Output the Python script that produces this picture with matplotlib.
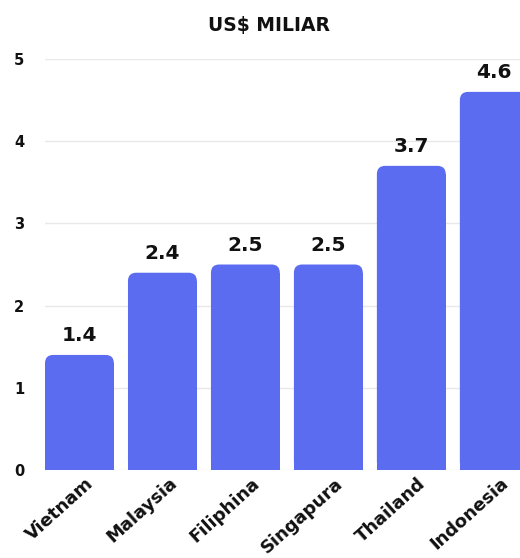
import matplotlib
matplotlib.use("Agg")
import matplotlib.pyplot as plt
from matplotlib.patches import FancyBboxPatch, Rectangle
import matplotlib.transforms as mtransforms

countries = ["Vietnam", "Malaysia", "Filiphina", "Singapura", "Thailand", "Indonesia"]
values = [1.4, 2.4, 2.5, 2.5, 3.7, 4.6]
value_labels = ["1.4", "2.4", "2.5", "2.5", "3.7", "4.6"]
yticks = [0, 1, 2, 3, 4, 5]
title = "US$ MILIAR"

color = "#5B6CF0"
font = "DejaVu Sans"
txt = "#111111"

fig = plt.figure(figsize=(5.2, 5.58), dpi=100)
ax = fig.add_axes([45/520, 88/558, 475/520, 411/558])

bars = ax.bar(range(len(countries)), values, width=0.83, color=color, zorder=2)
r = 0.1
for i, b in enumerate(bars):
    x, w, h = b.get_x(), b.get_width(), b.get_height()
    b.set_visible(False)
    ax.add_patch(FancyBboxPatch((x, 0), w, h, boxstyle=f"round,pad=0,rounding_size={r}",
                                fc=color, ec="none", zorder=2, mutation_aspect=1.0))
    ax.add_patch(Rectangle((x, 0), w, h - r, fc=color, ec="none", zorder=2))
    ax.text(x + w/2, h + 0.12, value_labels[i],
            ha="center", va="bottom", fontsize=14.5, fontweight="bold", family=font,
            color=txt, clip_on=False)

ax.set_xlim(-0.415, 5.31)
ax.set_ylim(0, 5)
ax.set_yticks(yticks)
ax.set_yticklabels([str(t) for t in yticks], fontsize=10.5, fontweight="bold", family=font, color=txt)
ax.yaxis.grid(True, color="#e8e8e8", lw=1, zorder=0)
ax.tick_params(axis="y", length=0, pad=15)
ax.tick_params(axis="x", length=0, pad=3)
ax.set_xticks(range(len(countries)))
ax.set_xticklabels(countries, rotation=42, ha="right", rotation_mode="anchor",
                   fontsize=13, fontweight="bold", family=font, color=txt)
offset = mtransforms.ScaledTranslation(6/100, 0, fig.dpi_scale_trans)
for lbl in ax.get_xticklabels():
    lbl.set_transform(lbl.get_transform() + offset)
for s in ax.spines.values():
    s.set_visible(False)

fig.text(269/520, 1 - 25/558, title, ha="center", va="center", fontsize=13.5,
         fontweight="bold", family=font, color=txt)

fig.savefig("out.png", dpi=100, facecolor="white")
